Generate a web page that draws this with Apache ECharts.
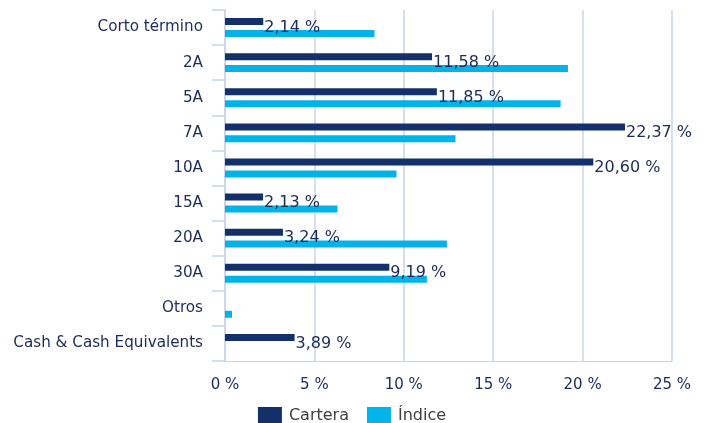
<!DOCTYPE html>
<html>
<head>
<meta charset="utf-8">
<script src="https://cdn.jsdelivr.net/npm/echarts@6/dist/echarts.min.js"></script>
<style>
  html, body { margin: 0; padding: 0; background: #fff; }
  #chart { width: 704px; height: 423px; }
</style>
</head>
<body>
<div id="chart"></div>
<script>
const categories = ['Corto término', '2A', '5A', '7A', '10A', '15A', '20A', '30A', 'Otros', 'Cash & Cash Equivalents'];
const cartera = [2.14, 11.58, 11.85, 22.37, 20.60, 2.13, 3.24, 9.19, 0, 3.89];
const indice = [8.36, 19.18, 18.77, 12.89, 9.59, 6.29, 12.41, 11.29, 0.39, 0];
const xTicks = [0, 5, 10, 15, 20, 25];

const navy = '#14306b';
const cyan = '#00b4ea';
const textColor = '#1c2b57';
const lineColor = '#c8d5e6';

const pct = v => v.toFixed(2).replace('.', ',') + ' %';

let chart = echarts.init(document.getElementById('chart'));
chart.setOption({
  animation: false,
  textStyle: { fontFamily: 'DejaVu Sans' },
  grid: { left: 225, right: 32, top: 10, bottom: 62 },
  legend: {
    top: 402,
    left: 'center',
    itemWidth: 24,
    itemHeight: 17,
    itemGap: 18,
    icon: 'rect',
    textStyle: { fontSize: 16, color: '#404040', padding: [0, 0, 0, 2] },
    data: ['Cartera', 'Índice']
  },
  xAxis: {
    type: 'value',
    min: xTicks[0],
    max: xTicks[xTicks.length - 1],
    interval: 5,
    axisLine: { show: true, lineStyle: { color: lineColor, width: 1 } },
    axisTick: { show: false },
    splitLine: { show: true, lineStyle: { color: lineColor, width: 1.5 } },
    axisLabel: { fontSize: 15, color: textColor, margin: 17, formatter: v => v + ' %' }
  },
  yAxis: {
    type: 'category',
    inverse: true,
    data: categories,
    axisLine: { show: true, lineStyle: { color: lineColor, width: 1.5 } },
    axisTick: { show: true, length: 13, lineStyle: { color: lineColor, width: 1.5 } },
    axisLabel: { fontSize: 15.2, color: textColor, margin: 22, padding: [5, 0, 0, 0] }
  },
  series: [
    {
      name: 'Cartera',
      type: 'bar',
      data: cartera,
      barWidth: 7,
      barGap: '70%',
      itemStyle: { color: navy },
      label: {
        show: true,
        position: 'right',
        distance: 1,
        offset: [0, 6],
        fontSize: 16,
        color: textColor,
        formatter: p => p.value ? pct(p.value) : ''
      }
    },
    {
      name: 'Índice',
      type: 'bar',
      data: indice,
      barWidth: 7,
      itemStyle: { color: cyan }
    }
  ]
});
</script>
</body>
</html>
